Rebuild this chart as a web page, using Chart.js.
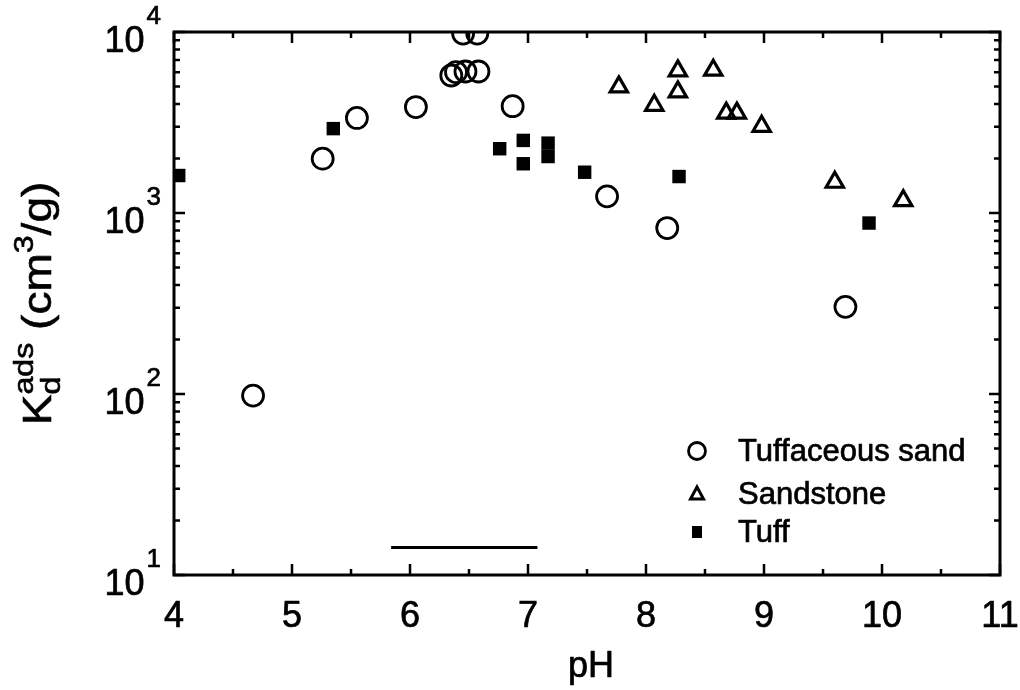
<!DOCTYPE html>
<html>
<head>
<meta charset="utf-8">
<script src="https://cdn.jsdelivr.net/npm/chart.js@4.4.1/dist/chart.umd.min.js"></script>
<style>
  body { margin: 0; background: #fff; }
  canvas { display: block; }
</style>
</head>
<body>
<canvas id="kdChart" width="1020" height="690"></canvas>
<script>
// Tuffaceous sand (open circles)
const sandPH = [4.67, 5.26, 5.55, 6.05, 6.35, 6.39, 6.47, 6.58, 6.45, 6.57, 6.87, 7.67, 8.18, 9.69];
const sandKd = [98, 1995, 3350, 3850, 5750, 6000, 6050, 6050, 9800, 9800, 3890, 1236, 826, 303];

// Sandstone (open triangles)
const stonePH = [7.77, 8.07, 8.27, 8.27, 8.57, 8.68, 8.77, 8.98, 9.60, 10.18];
const stoneKd = [4975, 3935, 6095, 4667, 6150, 3565, 3565, 3013, 1479, 1170];

// Tuff (filled squares)
const tuffPH = [4.04, 5.35, 6.76, 6.96, 6.96, 7.17, 7.17, 7.48, 8.28, 9.89];
const tuffKd = [1611, 2925, 2265, 2518, 1871, 2432, 2051, 1680, 1590, 880];

// short horizontal bar near the bottom
const barPH = [5.84, 7.08];
const barKd = [14.2, 14.2];

const xTickLabels = ['4', '5', '6', '7', '8', '9', '10', '11'];
const yTickValues = [10, 100, 1000, 10000];
const yTickExps = ['1', '2', '3', '4'];

const legendNames = ['Tuffaceous sand', 'Sandstone', 'Tuff'];

const FONT = '"Liberation Sans", Arial, Helvetica, sans-serif';

function toPoints(xs, ys) {
    return xs.map((v, i) => ({ x: v, y: ys[i] }));
}

// text a little heavier, like the scanned Helvetica
function boldText(ctx, t, x, y) {
    ctx.fillText(t, x, y);
    ctx.strokeText(t, x, y);
}

const framePlugin = {
    id: 'frame',
    afterDraw(chart) {
        const ctx = chart.ctx;
        const a = chart.chartArea;
        const xs = chart.scales.x;
        const ys = chart.scales.y;
        ctx.save();
        ctx.strokeStyle = '#000';
        ctx.fillStyle = '#000';
        ctx.lineWidth = 3;
        ctx.strokeRect(a.left, a.top, a.right - a.left, a.bottom - a.top);

        // inward ticks, all four sides
        ctx.lineWidth = 2.5;
        ctx.beginPath();
        for (let v = 4; v <= 11; v += 0.5) {
            const px = xs.getPixelForValue(v);
            const len = Number.isInteger(v) ? 11 : 6;
            ctx.moveTo(px, a.bottom); ctx.lineTo(px, a.bottom - len);
            ctx.moveTo(px, a.top); ctx.lineTo(px, a.top + len);
        }
        yTickValues.forEach(dec => {
            for (let m = 1; m <= 9; m++) {
                const val = dec * m;
                if (val > 10000) break;
                const py = ys.getPixelForValue(val);
                const len = m === 1 ? 11 : 6;
                ctx.moveTo(a.left, py); ctx.lineTo(a.left + len, py);
                ctx.moveTo(a.right, py); ctx.lineTo(a.right - len, py);
            }
        });
        ctx.stroke();

        ctx.lineWidth = 0.7;
        ctx.lineJoin = 'round';

        // x tick labels
        ctx.font = '36px ' + FONT;
        ctx.textAlign = 'center';
        ctx.textBaseline = 'alphabetic';
        xTickLabels.forEach(lab => {
            boldText(ctx, lab, xs.getPixelForValue(Number(lab)), a.bottom + 52);
        });

        // y tick labels 10^n
        yTickValues.forEach((val, i) => {
            const py = ys.getPixelForValue(val);
            ctx.font = '26px ' + FONT;
            const ew = ctx.measureText(yTickExps[i]).width;
            ctx.textAlign = 'right';
            boldText(ctx, yTickExps[i], a.left - 13, py - 8);
            ctx.font = '36px ' + FONT;
            boldText(ctx, '10', a.left - 15 - ew, py + 20);
        });

        // x title
        ctx.font = '36px ' + FONT;
        ctx.textAlign = 'center';
        boldText(ctx, 'pH', (a.left + a.right) / 2 + 4, a.bottom + 102);

        // y title: K_d^ads (cm^3/g)
        const big = 40, small = 28;
        const segs = [
            { t: 'K', f: big, dy: 0 },
            { t: 'd', f: small, dy: 9, stack: true },
            { t: 'ads', f: small, dy: -18 },
            { t: ' (cm', f: big, dy: 0 },
            { t: '3', f: small, dy: -18 },
            { t: '/g)', f: big, dy: 0 }
        ];
        let total = 0;
        const widths = segs.map(s => { ctx.font = s.f + 'px ' + FONT; return ctx.measureText(s.t).width; });
        segs.forEach((s, i) => {
            if (s.stack) return;
            total += (i > 0 && segs[i - 1].stack) ? Math.max(widths[i], widths[i - 1]) : widths[i];
        });
        const stretch = 1.15;
        ctx.translate(51, (a.top + a.bottom) / 2);
        ctx.rotate(-Math.PI / 2);
        ctx.scale(stretch, 1);
        ctx.lineWidth = 0.7 / stretch;
        ctx.textAlign = 'left';
        let cx = -total / 2;
        segs.forEach((s, i) => {
            ctx.font = s.f + 'px ' + FONT;
            boldText(ctx, s.t, cx, s.dy);
            if (s.stack) return;
            cx += (i > 0 && segs[i - 1].stack) ? Math.max(widths[i], widths[i - 1]) : widths[i];
        });
        ctx.restore();

        // legend
        ctx.save();
        ctx.strokeStyle = '#000';
        ctx.fillStyle = '#000';
        const lx = 697;
        const rows = [451, 494, 532];
        ctx.lineWidth = 2.8;
        ctx.beginPath();
        ctx.arc(lx, rows[0], 8.5, 0, Math.PI * 2);
        ctx.stroke();
        ctx.lineWidth = 3;
        ctx.beginPath();
        ctx.moveTo(lx, rows[1] - 7);
        ctx.lineTo(lx + 6.5, rows[1] + 5);
        ctx.lineTo(lx - 6.5, rows[1] + 5);
        ctx.closePath();
        ctx.stroke();
        ctx.fillRect(lx - 5, rows[2] - 6, 10, 12);
        ctx.font = '31px ' + FONT;
        ctx.textAlign = 'left';
        ctx.textBaseline = 'middle';
        ctx.lineWidth = 0.7;
        legendNames.forEach((n, i) => boldText(ctx, n, 738, rows[i] + 1));
        ctx.restore();
    }
};

new Chart(document.getElementById('kdChart'), {
    type: 'scatter',
    data: {
        datasets: [
            {
                label: legendNames[0],
                data: toPoints(sandPH, sandKd),
                pointStyle: 'circle',
                pointRadius: 10.5,
                pointBorderWidth: 2.8,
                borderColor: '#000',
                backgroundColor: 'rgba(0,0,0,0)'
            },
            {
                label: legendNames[1],
                data: toPoints(stonePH, stoneKd),
                pointStyle: 'triangle',
                pointRadius: 10,
                pointBorderWidth: 3.2,
                borderColor: '#000',
                backgroundColor: 'rgba(0,0,0,0)'
            },
            {
                label: legendNames[2],
                data: toPoints(tuffPH, tuffKd),
                pointStyle: 'rect',
                pointRadius: 9.5,
                pointBorderWidth: 0,
                borderColor: '#000',
                backgroundColor: '#000'
            },
            {
                label: 'bar',
                type: 'line',
                data: toPoints(barPH, barKd),
                showLine: true,
                pointRadius: 0,
                borderWidth: 3,
                borderColor: '#000'
            }
        ]
    },
    options: {
        responsive: false,
        animation: false,
        devicePixelRatio: 1,
        layout: { padding: { left: 174, right: 20, top: 32, bottom: 115 } },
        plugins: {
            legend: { display: false },
            tooltip: { enabled: false }
        },
        scales: {
            x: { type: 'linear', min: 4, max: 11, display: false },
            y: { type: 'logarithmic', min: 10, max: 10000, display: false }
        }
    },
    plugins: [framePlugin]
});
</script>
</body>
</html>
